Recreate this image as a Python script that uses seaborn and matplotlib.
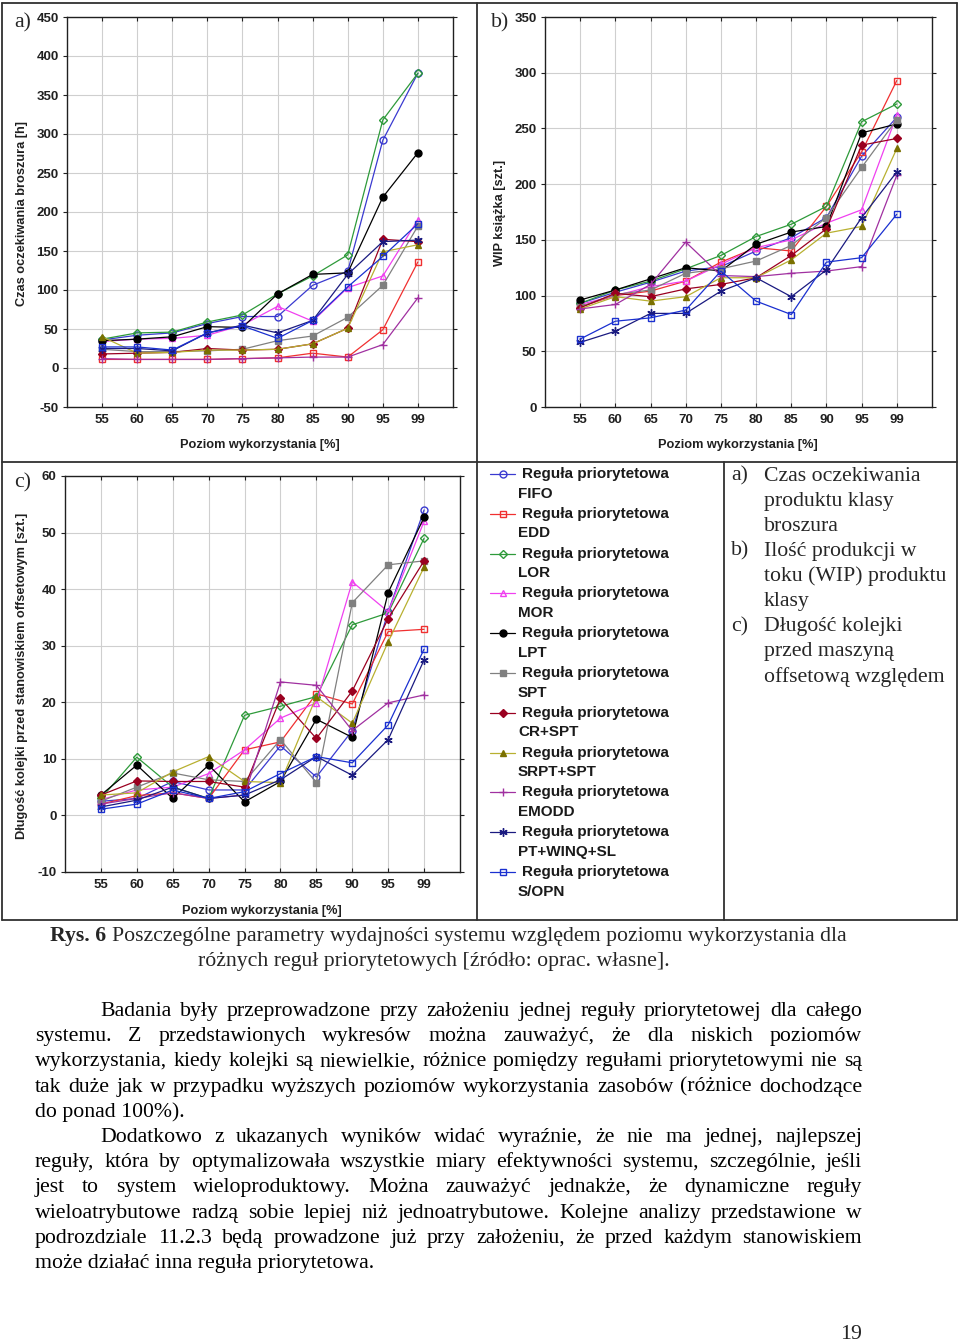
import matplotlib
matplotlib.use("Agg")
import matplotlib.pyplot as plt
from matplotlib.lines import Line2D
import seaborn as sns
import numpy as np

sns.set_style("ticks")
plt.rcParams['font.family'] = ['Liberation Sans', 'DejaVu Sans']

# ---------------- data ----------------
levels = ["55", "60", "65", "70", "75", "80", "85", "90", "95", "99"]
rules = ["FIFO", "EDD", "LOR", "MOR", "LPT", "SPT", "CR+SPT", "SRPT+SPT",
         "EMODD", "PT+WINQ+SL", "S/OPN"]

# a) waiting time [h]
a_fifo = [36, 42, 45, 57, 66, 66, 106, 124, 292, 378]
a_edd = [11, 11, 11, 11, 12, 13, 19, 14, 49, 136]
a_lor = [37, 45, 46, 59, 68, 95, 118, 145, 318, 378]
a_mor = [34, 37, 38, 42, 55, 79, 60, 103, 118, 190]
a_lpt = [35, 37, 40, 53, 52, 95, 120, 122, 219, 276]
a_spt = [24, 21, 21, 22, 24, 35, 41, 65, 106, 182]
a_crspt = [18, 19, 20, 25, 23, 24, 31, 51, 165, 162]
a_srpt = [40, 19, 20, 23, 23, 24, 31, 51, 149, 158]
a_emodd = [12, 11, 11, 11, 12, 13, 14, 14, 30, 90]
a_ptwinq = [25, 25, 22, 45, 55, 45, 61, 120, 162, 164]
a_sopn = [27, 27, 23, 45, 54, 38, 61, 104, 143, 185]

# b) WIP [szt.]
b_fifo = [93, 103, 112, 122, 126, 140, 152, 170, 225, 260]
b_edd = [90, 100, 104, 113, 130, 143, 140, 180, 229, 293]
b_lor = [93, 105, 113, 124, 136, 153, 164, 180, 256, 272]
b_mor = [92, 100, 108, 113, 128, 143, 150, 165, 177, 262]
b_lpt = [96, 105, 115, 125, 122, 146, 157, 162, 246, 254]
b_spt = [90, 101, 105, 120, 124, 131, 145, 170, 215, 258]
b_crspt = [89, 102, 99, 106, 110, 116, 136, 160, 235, 241]
b_srpt = [88, 99, 95, 99, 116, 116, 132, 156, 162, 232]
b_emodd = [88, 92, 110, 148, 118, 117, 120, 122, 126, 208]
b_ptwinq = [58, 68, 84, 84, 104, 116, 99, 123, 170, 211]
b_sopn = [61, 77, 80, 87, 122, 95, 83, 130, 134, 173]

# c) queue length [szt.]
c_fifo = [2.5, 3.0, 6.0, 4.5, 4.5, 12.3, 6.8, 15.0, 36.0, 54.0]
c_edd = [2.0, 3.5, 4.0, 3.0, 11.6, 13.0, 21.5, 19.7, 32.5, 32.9]
c_lor = [3.0, 10.3, 5.0, 3.0, 17.7, 19.3, 21.0, 33.7, 35.8, 49.0]
c_mor = [2.8, 4.5, 5.0, 7.4, 11.6, 17.2, 19.9, 41.3, 36.0, 52.0]
c_lpt = [3.6, 8.9, 3.0, 8.9, 2.4, 6.0, 17.0, 13.8, 39.4, 52.7]
c_spt = [2.5, 5.0, 7.5, 6.3, 6.0, 13.4, 5.8, 37.6, 44.3, 45.0]
c_crspt = [3.6, 6.1, 6.0, 6.0, 5.0, 20.7, 13.6, 22.0, 34.8, 45.0]
c_srpt = [3.6, 4.0, 7.7, 10.4, 6.0, 5.8, 21.0, 16.3, 30.7, 43.9]
c_emodd = [2.0, 3.0, 4.0, 3.0, 3.6, 23.6, 23.0, 15.0, 19.9, 21.3]
c_ptwinq = [1.5, 2.7, 5.0, 3.0, 3.6, 6.3, 10.4, 7.1, 13.4, 27.5]
c_sopn = [1.1, 2.0, 4.5, 3.0, 4.2, 7.4, 10.4, 9.3, 16.0, 29.4]

panel_a = [a_fifo, a_edd, a_lor, a_mor, a_lpt, a_spt, a_crspt, a_srpt, a_emodd, a_ptwinq, a_sopn]
panel_b = [b_fifo, b_edd, b_lor, b_mor, b_lpt, b_spt, b_crspt, b_srpt, b_emodd, b_ptwinq, b_sopn]
panel_c = [c_fifo, c_edd, c_lor, c_mor, c_lpt, c_spt, c_crspt, c_srpt, c_emodd, c_ptwinq, c_sopn]

# ---------------- styles ----------------
asterisk = (6, 2, 0)
styles = {
    "FIFO":       dict(color="#3a3ad0", marker="o", mfc="none", ms=5),
    "EDD":        dict(color="#f03030", marker="s", mfc="none", ms=5),
    "LOR":        dict(color="#2e9a3a", marker="D", mfc="none", ms=4),
    "MOR":        dict(color="#f040f0", marker="^", mfc="none", ms=5),
    "LPT":        dict(color="#000000", marker="o", mfc="#000000", ms=5),
    "SPT":        dict(color="#808080", marker="s", mfc="#808080", ms=5),
    "CR+SPT":     dict(color="#9a0020", marker="D", mfc="#9a0020", ms=4),
    "SRPT+SPT":   dict(color="#b8b030", marker="^", mfc="#7a7000", ms=5),
    "EMODD":      dict(color="#a030a0", marker="+", mfc="none", ms=6),
    "PT+WINQ+SL": dict(color="#1a1a80", marker=asterisk, mfc="none", ms=6),
    "S/OPN":      dict(color="#1a30d0", marker="s", mfc="none", ms=5),
}

W, H = 960, 1342
fig = plt.figure(figsize=(W / 100, H / 100), dpi=100)
fig.patch.set_facecolor("white")


def fx(x):
    return x / W


def fy(y):
    return 1 - y / H


def add_ax(l, t, r, b):
    return fig.add_axes([fx(l), fy(b), (r - l) / W, (b - t) / H])


def line(x0, y0, x1, y1, lw=1.3, color="#303030"):
    fig.add_artist(Line2D([fx(x0), fx(x1)], [fy(y0), fy(y1)],
                          transform=fig.transFigure, color=color, lw=lw))


xpos = np.arange(len(levels))
TICK_KW = dict(fontsize=9.5, fontweight="bold", color="#202020")


def draw_panel(ax, data, yticks, ylim):
    for name, vals in zip(rules, data):
        st = styles[name]
        sns.lineplot(x=xpos, y=vals, ax=ax, color=st["color"], marker=st["marker"],
                     markerfacecolor=st["mfc"], markeredgecolor=st["color"] if st["mfc"] == "none" else st["mfc"],
                     markersize=st["ms"], markeredgewidth=1.0, linewidth=0.9,
                     estimator=None, sort=False, legend=False)
    ax.set_xlim(-1, 10)
    ax.set_ylim(*ylim)
    ax.set_xticks(xpos)
    ax.set_xticklabels(levels, **TICK_KW)
    ax.set_yticks(yticks)
    ax.set_yticklabels([str(v) for v in yticks], **TICK_KW)
    ax.grid(True, color="#cfcfcf", lw=0.8)
    ax.set_axisbelow(True)
    for sp in ax.spines.values():
        sp.set_visible(True)
        sp.set_color("#202020")
        sp.set_linewidth(1.0)
    ax.tick_params(axis="both", length=3, width=0.8, color="#202020", pad=3)
    ax.tick_params(axis="x", pad=5)
    ax.tick_params(which="both", top=True, right=True)
    ax.set_xlabel("")
    ax.set_ylabel("")


ax_a = add_ax(67, 17, 453, 407)
draw_panel(ax_a, panel_a, list(range(-50, 451, 50)), (-50, 450))
ax_b = add_ax(545, 17, 932, 407)
draw_panel(ax_b, panel_b, list(range(0, 351, 50)), (0, 350))
ax_c = add_ax(65, 476, 460, 872)
draw_panel(ax_c, panel_c, list(range(-10, 61, 10)), (-10, 60))

for ax in (ax_a, ax_b, ax_c):
    ax.tick_params(axis="x", top=True, direction="in", length=3)

lab_kw = dict(fontsize=9.2, fontweight="bold", color="#202020")
fig.text(fx(22), fy(213), "Czas oczekiwania broszura [h]", rotation=90, ha="center", va="center", **lab_kw)
fig.text(fx(260), fy(445), "Poziom wykorzystania [%]", ha="center", va="center", **lab_kw)
fig.text(fx(500), fy(213), "WIP książka [szt.]", rotation=90, ha="center", va="center", **lab_kw)
fig.text(fx(738), fy(445), "Poziom wykorzystania [%]", ha="center", va="center", **lab_kw)
fig.text(fx(22), fy(676), "Długość kolejki przed stanowiskiem offsetowym [szt.]", rotation=90,
         ha="center", va="center", **lab_kw)
fig.text(fx(262), fy(911), "Poziom wykorzystania [%]", ha="center", va="center", **lab_kw)

serif = ['Liberation Serif', 'DejaVu Serif']
TS = 15.7

# panel letters
fig.text(fx(14), fy(23), "a)", family=serif, fontsize=TS, va="center", ha="left")
fig.text(fx(491), fy(23), "b)", family=serif, fontsize=TS, va="center", ha="left")
fig.text(fx(14), fy(483), "c)", family=serif, fontsize=TS, va="center", ha="left")

# table borders
line(2, 3, 957, 3)
line(2, 920, 957, 920)
line(2, 3, 2, 920)
line(957, 3, 957, 920)
line(2, 462, 957, 462)
line(477, 3, 477, 920)
line(724, 462, 724, 920)

# legend
leg_kw = dict(fontsize=11, fontweight="bold", va="center", ha="left", color="#1a1a1a")
for i, name in enumerate(rules):
    st = styles[name]
    y = 474 + i * 39.8
    fig.add_artist(Line2D([fx(490), fx(515)], [fy(y), fy(y)], transform=fig.transFigure,
                          color=st["color"], lw=0.9))
    fig.add_artist(Line2D([fx(502.5)], [fy(y)], transform=fig.transFigure, color=st["color"],
                          marker=st["marker"], markerfacecolor=st["mfc"],
                          markeredgecolor=st["color"] if st["mfc"] == "none" else st["mfc"],
                          markersize=st["ms"], markeredgewidth=1.0, lw=0))
    fig.text(fx(522), fy(y), "Reguła priorytetowa", **leg_kw)
    fig.text(fx(518), fy(y + 19.5), name, **leg_kw)

# description cell
desc = [("a)", "Czas oczekiwania"), ("", "produktu klasy"), ("", "broszura"),
        ("b)", "Ilość produkcji w"), ("", "toku (WIP) produktu"), ("", "klasy"),
        ("c)", "Długość kolejki"), ("", "przed maszyną"), ("", "offsetową względem")]
for i, (lab, txt) in enumerate(desc):
    y = 476 + i * 25.1
    if lab:
        fig.text(fx(731), fy(y), lab, family=serif, fontsize=TS, va="center", ha="left")
    fig.text(fx(764), fy(y), txt, family=serif, fontsize=TS, va="center", ha="left")

renderer = fig.canvas.get_renderer()


def text_width(s, **kw):
    t = fig.text(0, 0, s, **kw)
    w = t.get_window_extent(renderer).width
    t.remove()
    return w


# caption
cap_kw = dict(family=serif, fontsize=TS, va="baseline", ha="left")
base1 = 941
fig.text(fx(50), fy(base1), "Rys. 6", fontweight="bold", **cap_kw)
wr = text_width("Rys. 6 ", fontweight="bold", **cap_kw)
fig.text(fx(50 + wr), fy(base1),
         "Poszczególne parametry wydajności systemu względem poziomu wykorzystania dla", **cap_kw)
fig.text(fx(434), fy(base1 + 25), "różnych reguł priorytetowych [źródło: oprac. własne].",
         family=serif, fontsize=TS, va="baseline", ha="center")

# justified body text
body = [
    (100, "Badania były przeprowadzone przy założeniu jednej reguły priorytetowej dla całego", True),
    (35, "systemu. Z przedstawionych wykresów można zauważyć, że dla niskich poziomów", True),
    (35, "wykorzystania, kiedy kolejki są niewielkie, różnice pomiędzy regułami priorytetowymi nie są", True),
    (35, "tak duże jak w przypadku wyższych poziomów wykorzystania zasobów (różnice dochodzące", True),
    (35, "do ponad 100%).", False),
    (100, "Dodatkowo z ukazanych wyników widać wyraźnie, że nie ma jednej, najlepszej", True),
    (35, "reguły, która by optymalizowała wszystkie miary efektywności systemu, szczególnie, jeśli", True),
    (35, "jest to system wieloproduktowy. Można zauważyć jednakże, że dynamiczne reguły", True),
    (35, "wieloatrybutowe radzą sobie lepiej niż jednoatrybutowe. Kolejne analizy przedstawione w", True),
    (35, "podrozdziale 11.2.3 będą prowadzone już przy założeniu, że przed każdym stanowiskiem", True),
    (35, "może działać inna reguła priorytetowa.", False),
]
body_kw = dict(family=serif, fontsize=TS, va="baseline", ha="left", color="black")
right_edge = 862
for i, (x0, txt, just) in enumerate(body):
    yb = 1016 + i * 25.2
    if not just:
        fig.text(fx(x0), fy(yb), txt, **body_kw)
        continue
    words = txt.split(" ")
    widths = [text_width(w, **body_kw) for w in words]
    gap = (right_edge - x0 - sum(widths)) / (len(words) - 1)
    x = x0
    for w, wd in zip(words, widths):
        fig.text(fx(x), fy(yb), w, **body_kw)
        x += wd + gap

fig.text(fx(862), fy(1339), "19", family=serif, fontsize=TS, va="baseline", ha="right")

fig.savefig("out.png", dpi=100, facecolor="white")
